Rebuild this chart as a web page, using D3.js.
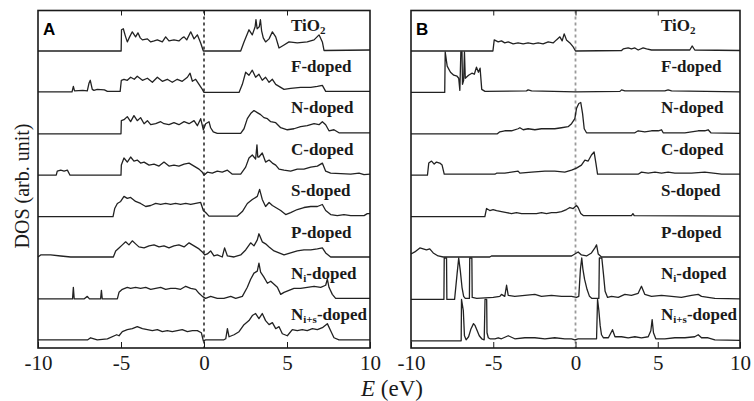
<!DOCTYPE html>
<html>
<head>
<meta charset="UTF-8">
<title>DOS</title>
<style>
  body { margin: 0; background: #fff; }
  text { font-family: "Liberation Serif", "Times New Roman", serif; }
</style>
</head>
<body>
<script src="https://cdn.jsdelivr.net/npm/d3@7/dist/d3.min.js"></script>
<svg id="chart" width="754" height="401"></svg>
<script>
// row labels, top to bottom ([text, isSubscript] parts)
const rowLabels = [
  [["TiO", 0], ["2", 1]],
  [["F-doped", 0]],
  [["N-doped", 0]],
  [["C-doped", 0]],
  [["S-doped", 0]],
  [["P-doped", 0]],
  [["N", 0], ["i", 1], ["-doped", 0]],
  [["N", 0], ["i+s", 1], ["-doped", 0]]
];
const xTicks = [-10, -5, 0, 5, 10];

// panel A : [E (eV), DOS (arb.)]
const tio2A = [[-10,0],[-4.99,0],[-4.97,21],[-4.86,22],[-4.74,15],[-4.62,9],[-4.48,14],[-4.32,19],[-4.12,14],[-3.98,18],[-3.84,13],[-3.71,11],[-3.41,12],[-3.21,9],[-3.0,10],[-2.81,11],[-2.51,9],[-2.31,14],[-2.11,10],[-1.81,11],[-1.51,10],[-1.31,13],[-1.2,14],[-1.04,11],[-0.8,19],[-0.6,12],[-0.4,16],[-0.2,8],[-0.04,0],[2.21,0],[2.41,9],[2.71,21],[2.91,16],[3.08,24],[3.13,31],[3.2,22],[3.33,24],[3.4,31],[3.47,20],[3.57,13],[3.71,9],[3.92,12],[4.12,19],[4.32,14],[4.52,3],[4.82,6],[5.12,9],[5.62,8],[6.22,9],[6.63,11],[6.93,16],[7.13,9],[7.23,0.5],[10,1]];
const fDopedA = [[-10,0.5],[-7.95,0.5],[-7.87,6],[-7.8,1.5],[-7.3,2],[-7.03,1.5],[-6.93,9],[-6.85,12],[-6.73,3],[-6.63,2],[-6.43,3],[-6.0,2.5],[-5.82,1],[-5.05,1],[-4.98,12],[-4.82,13],[-4.62,12],[-4.42,15],[-4.2,13],[-4.02,16],[-3.71,12],[-3.41,14],[-3.11,10],[-2.81,15],[-2.51,11],[-2.21,13],[-1.91,10],[-1.61,13],[-1.31,11],[-1.0,15],[-0.84,19],[-0.7,11],[-0.5,13],[-0.3,8],[-0.1,3],[0,0],[2.11,0],[2.31,8],[2.51,20],[2.71,17],[2.91,22],[3.11,15],[3.31,18],[3.51,12],[3.71,15],[3.92,10],[4.12,13],[4.32,8],[4.52,6],[4.82,3],[5.22,4],[5.82,5],[6.43,5],[6.83,6],[7.13,7],[7.33,1],[10,1]];
const nDopedA = [[-10,0],[-5.0,0],[-4.98,13],[-4.82,14],[-4.62,17],[-4.42,12],[-4.22,18],[-4.02,13],[-3.82,16],[-3.61,10],[-3.41,13],[-3.21,9],[-2.91,10],[-2.61,12],[-2.41,10],[-2.11,9],[-1.81,11],[-1.51,9],[-1.2,12],[-0.9,10],[-0.6,13],[-0.4,8],[-0.2,15],[-0.04,4],[0.1,10],[0.3,12],[0.4,6],[0.56,2],[0.8,0.5],[2.21,0.5],[2.41,5],[2.61,15],[2.81,20],[3.01,23],[3.21,21],[3.41,19],[3.61,16],[3.82,15],[4.02,12],[4.32,11],[4.62,6],[5.02,4],[5.42,5],[5.82,7],[6.22,8],[6.63,10],[6.93,9],[7.13,12],[7.33,9],[7.53,3],[7.83,4],[8.13,1],[10,1]];
const cDopedA = [[-10,0],[-8.9,0],[-8.84,4],[-8.63,5],[-8.43,4],[-8.23,5],[-8.07,0],[-5.0,0],[-4.98,10],[-4.82,17],[-4.62,13],[-4.42,18],[-4.22,14],[-4.02,15],[-3.82,12],[-3.61,13],[-3.31,10],[-3.01,11],[-2.71,9],[-2.41,13],[-2.11,9],[-1.81,10],[-1.51,9],[-1.2,11],[-0.9,12],[-0.6,9],[-0.3,6],[-0.1,3],[0,0],[0.2,3],[0.5,2],[0.8,4],[1.1,3],[1.41,5],[1.71,1],[2.21,1],[2.51,8],[2.71,17],[2.91,20],[3.11,16],[3.19,30],[3.24,18],[3.31,18],[3.51,22],[3.71,13],[3.92,15],[4.12,12],[4.32,10],[4.52,6],[4.82,5],[5.22,4],[5.62,6],[6.02,6],[6.43,8],[6.83,9],[7.13,12],[7.33,4],[7.63,2],[8.84,1],[9.34,2],[9.64,0.5],[10,1]];
const sDopedA = [[-10,0],[-5.48,0],[-5.38,8],[-5.22,13],[-5.02,15],[-4.82,20],[-4.62,18],[-4.42,19],[-4.12,15],[-3.82,13],[-3.51,10],[-3.21,11],[-2.91,13],[-2.61,12],[-2.31,13],[-2.01,12],[-1.71,13],[-1.41,12],[-1.1,13],[-0.8,12],[-0.5,13],[-0.2,14],[-0.04,6],[0.1,4],[0.3,0.5],[2.01,0.5],[2.31,5],[2.61,13],[2.91,17],[3.21,20],[3.35,27],[3.51,17],[3.71,10],[3.92,14],[4.12,11],[4.32,9],[4.62,6],[4.92,2],[5.22,4],[5.62,7],[6.02,9],[6.43,10],[6.83,10],[7.13,12],[7.33,6],[7.63,2],[8.03,1],[8.43,2],[8.84,1],[9.64,1],[9.84,3],[10,3]];
const pDopedA = [[-10,1],[-9.84,3],[-9.24,3],[-8.63,2],[-8.03,1],[-7.23,1],[-5.46,1],[-5.32,7],[-5.12,10],[-4.92,13],[-4.72,16],[-4.52,13],[-4.32,17],[-4.12,14],[-3.92,11],[-3.61,10],[-3.31,12],[-3.01,13],[-2.71,11],[-2.41,12],[-2.11,10],[-1.81,12],[-1.51,13],[-1.2,11],[-0.9,15],[-0.6,12],[-0.3,9],[-0.1,6],[0.04,3],[0.2,4],[0.4,7],[0.6,2],[0.8,3],[1.1,1],[1.24,10],[1.41,2],[1.81,1],[2.21,3],[2.51,8],[2.81,15],[3.01,12],[3.21,18],[3.31,24],[3.51,16],[3.71,14],[3.92,11],[4.22,7],[4.52,5],[4.82,3],[5.22,5],[5.62,7],[6.02,8],[6.43,8],[6.83,9],[7.13,10],[7.33,5],[7.63,1],[10,1]];
const niDopedA = [[-10,0.5],[-7.92,0.5],[-7.87,12],[-7.82,0.5],[-7.23,0.5],[-7.03,3],[-6.9,0.5],[-6.23,0.5],[-6.18,9],[-6.13,0.5],[-5.22,0.5],[-5.12,7],[-4.92,10],[-4.62,12],[-4.42,11],[-4.12,12],[-3.82,11],[-3.51,12],[-3.21,10],[-2.91,11],[-2.61,12],[-2.31,10],[-2.01,11],[-1.71,11],[-1.41,10],[-1.1,13],[-0.8,11],[-0.5,10],[-0.3,6],[-0.1,3],[0.1,1],[0.4,3],[0.8,1],[1.2,1],[1.61,3],[1.91,1],[2.31,3],[2.61,12],[2.81,20],[3.01,26],[3.21,28],[3.31,36],[3.41,27],[3.61,22],[3.82,16],[4.02,18],[4.22,15],[4.42,12],[4.62,5],[4.82,7],[5.12,9],[5.42,11],[5.82,11],[6.22,12],[6.63,13],[7.03,12],[7.33,14],[7.43,20],[7.53,12],[7.73,5],[7.93,1],[10,1]];
const nisDopedA = [[-10,1],[-7.0,1],[-6.83,3],[-6.43,1],[-5.82,2],[-5.26,6],[-5.12,5],[-4.92,9],[-4.62,11],[-4.32,12],[-4.02,14],[-3.71,12],[-3.41,11],[-3.11,10],[-2.81,11],[-2.51,9],[-2.21,10],[-1.91,9],[-1.61,10],[-1.31,11],[-1.0,9],[-0.7,10],[-0.4,10],[-0.16,8],[-0.04,0],[0.1,1],[1.2,1],[1.31,2],[1.41,12],[1.51,4],[1.81,6],[2.11,9],[2.41,16],[2.71,20],[2.91,25],[3.11,27],[3.31,22],[3.51,27],[3.71,20],[3.92,16],[4.12,18],[4.32,12],[4.52,14],[4.72,7],[5.02,5],[5.32,11],[5.62,10],[5.92,11],[6.22,10],[6.53,12],[6.83,11],[7.13,13],[7.43,17],[7.63,10],[7.83,3],[8.13,1],[10,1]];

// panel B : [E (eV), DOS (arb.)]
const tio2B = [[-10,0],[-5.02,0],[-4.94,11],[-4.7,9],[-4.5,10],[-4.3,8],[-4.09,9],[-3.79,7],[-3.49,8],[-3.18,7],[-2.88,8],[-2.57,7],[-2.27,8],[-1.97,7],[-1.66,9],[-1.36,8],[-1.16,11],[-0.95,14],[-0.81,10],[-0.69,17],[-0.55,11],[-0.34,8],[-0.14,4],[0.0,0],[2.8,0.5],[2.9,2],[3.2,3],[3.4,2],[3.61,3],[3.81,1],[4.11,3],[4.32,2],[4.62,1],[6.95,1],[7.09,5],[7.25,1],[10,0.5]];
const fDopedB = [[-10,0],[-7.95,0],[-7.92,40],[-7.8,26],[-7.6,20],[-7.4,17],[-7.2,16],[-7.1,14],[-7.03,2],[-6.97,40],[-6.9,40],[-6.87,8],[-6.8,12],[-6.75,40],[-6.7,14],[-6.5,17],[-6.3,19],[-6.15,18],[-6.02,25],[-5.9,20],[-5.8,24],[-5.7,3],[-5.5,1],[-2.98,1.5],[-2.88,2.5],[-2.67,1.5],[0,0.5],[2.7,1],[2.8,2.5],[3.0,1.5],[5.43,1.5],[5.63,2.5],[5.84,1.5],[10,0.5]];
const nDopedB = [[-10,0],[-4.75,0],[-4.6,2],[-4.3,3],[-3.89,3],[-3.49,5],[-3.38,6],[-3.18,4],[-2.88,5],[-2.47,4],[-2.07,5],[-1.66,5],[-1.26,5],[-0.85,6],[-0.45,7],[-0.24,10],[-0.04,15],[0.06,25],[0.2,30],[0.32,31],[0.43,20],[0.53,5],[0.67,1],[3.61,1],[3.81,3],[4.21,2],[4.62,3],[5.03,3],[5.23,4],[5.33,1],[6.65,1],[7.05,2],[7.46,3],[7.86,3],[8.06,4],[8.23,1],[10,0.5]];
const cDopedB = [[-10,0],[-9.0,0],[-8.92,12],[-8.75,14],[-8.59,11],[-8.45,13],[-8.25,12],[-8.11,10],[-7.98,1],[-4.9,1],[-4.8,2],[-4.3,2],[-3.49,4],[-3.38,2],[-2.67,3],[-1.86,4],[-1.26,4],[-0.65,3],[-0.24,5],[0.06,7],[0.36,10],[0.57,15],[0.77,14],[0.97,20],[1.13,23],[1.24,12],[1.34,1],[3.81,1],[4.01,3],[4.42,2],[4.83,3],[5.23,2],[5.63,3],[6.04,2],[6.44,2],[7.05,2],[7.86,3],[8.88,1],[10,1]];
const sDopedB = [[-10,0],[-5.51,0],[-5.41,8],[-5.21,6],[-5.01,7],[-4.8,6],[-4.5,5],[-4.19,4],[-3.89,3],[-3.59,4],[-3.28,3],[-2.98,3],[-2.67,3],[-2.37,3],[-2.07,4],[-1.76,3],[-1.46,4],[-1.16,4],[-0.85,5],[-0.55,7],[-0.34,9],[-0.14,8],[0.06,11],[0.16,9],[0.32,3],[0.47,1],[3.4,1],[3.49,3],[3.57,1],[10,0.5]];
const pDopedB = [[-10,4],[-9.77,6],[-9.46,10],[-9.26,9],[-9.06,8],[-8.86,9],[-8.65,5],[-8.35,2],[-8.04,1],[-5.21,1],[-5.11,2],[-0.24,2],[-0.04,4],[0.16,6],[0.36,3],[0.67,2],[0.97,5],[1.18,10],[1.28,13],[1.38,4],[1.58,1],[10,1]];
const niDopedB = [[-10,0],[-8.0,0],[-7.98,41],[-7.84,41],[-7.82,0],[-7.35,0],[-7.2,25],[-7.1,41],[-7.0,28],[-6.9,12],[-6.8,3],[-6.7,1],[-6.45,1],[-6.43,41],[-6.3,41],[-6.28,2],[-6.0,1],[-5.0,2],[-4.6,3],[-4.5,5],[-4.3,3],[-4.19,14],[-4.09,4],[-3.69,3],[-3.08,4],[-2.47,5],[-2.07,3],[-1.46,4],[-0.85,3],[-0.24,3],[0.06,2],[0.2,3],[0.3,30],[0.38,41],[0.45,30],[0.55,20],[0.7,10],[0.85,3],[1.0,1],[1.42,1],[1.45,41],[1.6,41],[1.7,25],[1.8,8],[1.95,2],[2.19,3],[2.6,2],[3.0,5],[3.4,4],[3.81,6],[4.01,13],[4.21,5],[4.62,3],[5.23,4],[5.84,3],[6.44,2],[7.05,4],[7.46,5],[7.66,3],[8.06,2],[8.47,1],[10,0.5]];
const nisDopedB = [[-10,0],[-6.95,0],[-6.93,41],[-6.82,30],[-6.75,5],[-6.65,1],[-6.5,4],[-6.35,12],[-6.2,17],[-6.1,15],[-6.0,11],[-5.85,5],[-5.7,2],[-5.55,1],[-5.5,41],[-5.4,41],[-5.38,8],[-5.3,3],[-5.2,2],[-4.9,2],[-4.7,3],[-4.5,2],[-4.09,5],[-3.69,2],[-3.08,3],[-2.47,3],[-1.86,2],[-1.26,3],[-0.65,2],[-0.24,2],[-0.04,1],[0.16,2],[0.77,2],[1.28,2],[1.34,41],[1.42,30],[1.5,15],[1.58,6],[1.7,3],[2.0,3],[2.25,11],[2.4,4],[2.8,4],[3.2,3],[3.61,4],[4.01,3],[4.42,4],[4.58,10],[4.66,21],[4.74,8],[4.88,2],[5.43,2],[6.04,3],[6.65,3],[7.25,4],[7.46,6],[7.66,3],[8.06,3],[8.47,1],[10,0.5]];

const svg = d3.select("#chart");
const yTop = 10.5, yBottom = 348;

// baseline of each row and height of a DOS unit
const rowY = d3.scaleLinear().domain([0, 7]).range([51, 340.8]);
const dosY = d3.scaleLinear().domain([0, 41]).range([0, 41.4]);

const panels = [
  { name: "A", x0: 38, x1: 370, zero: "#111", zeroW: 1.4, labelX: 291,
    series: [tio2A, fDopedA, nDopedA, cDopedA, sDopedA, pDopedA, niDopedA, nisDopedA] },
  { name: "B", x0: 411, x1: 740, zero: "#9a9a9a", zeroW: 1.8, labelX: 661,
    series: [tio2B, fDopedB, nDopedB, cDopedB, sDopedB, pDopedB, niDopedB, nisDopedB] }
];

panels.forEach(p => {
  const x = d3.scaleLinear().domain([-10, 10]).range([p.x0, p.x1]);
  const g = svg.append("g");

  // E = 0 reference line
  g.append("line")
    .attr("x1", x(0)).attr("x2", x(0))
    .attr("y1", yTop).attr("y2", yBottom)
    .attr("stroke", p.zero).attr("stroke-width", p.zeroW)
    .attr("stroke-dasharray", "3,3");

  // DOS curves
  p.series.forEach((s, i) => {
    const line = d3.line()
      .x(d => x(d[0]))
      .y(d => rowY(i) - dosY(d[1]));
    g.append("path")
      .datum(s)
      .attr("d", line)
      .attr("fill", "none")
      .attr("stroke", "#222")
      .attr("stroke-width", 1.3)
      .attr("stroke-linejoin", "round");
  });

  // row labels
  rowLabels.forEach((parts, i) => {
    const t = g.append("text")
      .attr("x", p.labelX)
      .attr("y", rowY(i) - 20.5)
      .attr("font-size", 17)
      .attr("font-weight", "bold")
      .attr("fill", "#1a1a1a");
    let wasSub = false;
    parts.forEach(([txt, sub]) => {
      const ts = t.append("tspan").text(txt);
      if (sub) ts.attr("font-size", 11).attr("dy", 3);
      else if (wasSub) ts.attr("dy", -3);
      wasSub = !!sub;
    });
  });

  // frame
  g.append("rect")
    .attr("x", p.x0).attr("y", yTop)
    .attr("width", p.x1 - p.x0).attr("height", yBottom - yTop)
    .attr("fill", "none").attr("stroke", "#1a1a1a").attr("stroke-width", 1.6);

  // axes (inward ticks)
  const ax = g.append("g")
    .attr("transform", `translate(0,${yBottom})`)
    .call(d3.axisBottom(x).tickValues(xTicks).tickSize(-6).tickPadding(7).tickFormat(d => String(d)));
  ax.select(".domain").remove();
  ax.selectAll("text").attr("font-size", 21).attr("fill", "#1a1a1a")
    .style("font-family", "'Liberation Serif', serif");
  ax.selectAll("line").attr("stroke", "#1a1a1a");

  const axt = g.append("g")
    .attr("transform", `translate(0,${yTop})`)
    .call(d3.axisTop(x).tickValues(xTicks.slice(1, -1)).tickSize(-5).tickFormat(""));
  axt.select(".domain").remove();
  axt.selectAll("line").attr("stroke", "#1a1a1a");

  // panel letter
  g.append("text")
    .attr("x", p.x0 + 5).attr("y", 35)
    .style("font-family", "'Liberation Sans', Arial, sans-serif")
    .attr("font-size", 17).attr("font-weight", "bold")
    .text(p.name);
});

// axis titles
svg.append("text")
  .attr("transform", "translate(29,186) rotate(-90)")
  .attr("text-anchor", "middle")
  .attr("font-size", 20)
  .attr("fill", "#1a1a1a")
  .text("DOS (arb. unit)");

const xt = svg.append("text")
  .attr("x", 392).attr("y", 396)
  .attr("text-anchor", "middle")
  .attr("font-size", 23)
  .attr("fill", "#1a1a1a");
xt.append("tspan").attr("font-style", "italic").text("E");
xt.append("tspan").text(" (eV)");
</script>
</body>
</html>
